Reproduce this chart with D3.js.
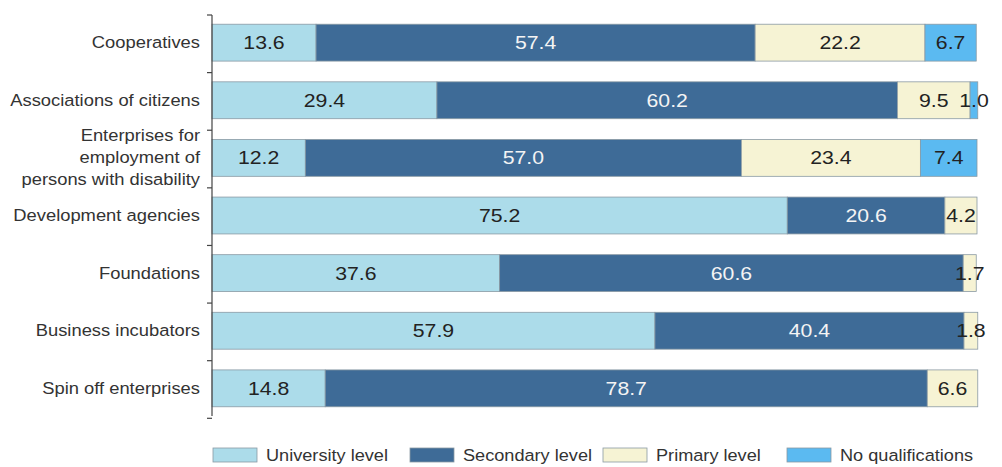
<!DOCTYPE html>
<html><head><meta charset="utf-8">
<script src="https://cdn.jsdelivr.net/npm/d3@7"></script>
<style>body{margin:0;background:#fff;} text{font-family:"Liberation Sans",Arial,Helvetica,sans-serif;}</style>
</head><body>
<svg id="c" width="1002" height="467"></svg>
<script>
const categories = ["Cooperatives","Associations of citizens","Enterprises for employment of persons with disability","Development agencies","Foundations","Business incubators","Spin off enterprises"];
const categoryLines = [["Cooperatives"],["Associations of citizens"],["Enterprises for","employment of","persons with disability"],["Development agencies"],["Foundations"],["Business incubators"],["Spin off enterprises"]];
const seriesNames = ["University level","Secondary level","Primary level","No qualifications"];
const university = [13.6,29.4,12.2,75.2,37.6,57.9,14.8];
const secondary = [57.4,60.2,57.0,20.6,60.6,40.4,78.7];
const primary = [22.2,9.5,23.4,4.2,1.7,1.8,6.6];
const noQual = [6.7,1.0,7.4,0,0,0,0];
const colors = ["#acdcea","#3e6b97","#f6f3d4","#5bbaf1"];
const textColors = ["#222","#f4f4f4","#222","#222"];

(function(){
const svg = d3.select("#c");
const mL = 212, mR = 977, mT = 15, mB = 416;
const x = d3.scaleLinear().domain([0,100]).range([mL,mR]);
const y = d3.scaleBand().domain(categories).range([mT,mB]).paddingInner(0.36).paddingOuter(0.16);
const sxV = 1.18, sxC = 1.08, sxL = 1.1;

const rows = categories.map((c,i)=>({cat:c, v:[university[i],secondary[i],primary[i],noQual[i]]}));
rows.forEach(r=>{
  let acc=0;
  r.v.forEach((val,k)=>{
    if(val<=0) return;
    const x0=x(acc), x1=x(acc+val);
    svg.append("rect").attr("x",x0).attr("y",y(r.cat)).attr("width",x1-x0).attr("height",y.bandwidth())
      .attr("fill",colors[k]).attr("stroke","#8a9aa4").attr("stroke-width",0.8);
    const cx=(x0+x1)/2, cy=y(r.cat)+y.bandwidth()/2+6.5;
    svg.append("text").attr("transform",`translate(${cx},${cy}) scale(${sxV},1)`).attr("text-anchor","middle")
      .attr("font-size",18).attr("fill",textColors[k]).text(val.toFixed(1));
    acc+=val;
  });
});

const step = y.step();
const boundaries = d3.range(categories.length+1).map(i=>mT+i*step);
svg.append("line").attr("x1",mL).attr("x2",mL).attr("y1",mT).attr("y2",mB).attr("stroke","#444").attr("stroke-width",1.2);
boundaries.forEach(b=>{
  svg.append("line").attr("x1",mL-5).attr("x2",mL).attr("y1",b).attr("y2",b).attr("stroke","#444").attr("stroke-width",1.2);
});
categories.forEach((c,i)=>{
  const lines = categoryLines[i];
  const cy = y(c)+y.bandwidth()/2;
  const lh = 22;
  lines.forEach((ln,j)=>{
    const yy = cy + (j-(lines.length-1)/2)*lh + 5.5;
    svg.append("text").attr("transform",`translate(200,${yy}) scale(${sxC},1)`).attr("text-anchor","end")
      .attr("font-size",17).attr("fill","#333").text(ln);
  });
});

const legX = [213,410,603,787];
seriesNames.forEach((s,k)=>{
  svg.append("rect").attr("x",legX[k]).attr("y",448).attr("width",44).attr("height",14)
    .attr("fill",colors[k]).attr("stroke","#8a9aa4").attr("stroke-width",0.8);
  svg.append("text").attr("transform",`translate(${legX[k]+53},${461}) scale(${sxL},1)`)
    .attr("font-size",16.5).attr("fill","#333").text(s);
});
})();
</script>
</body></html>
